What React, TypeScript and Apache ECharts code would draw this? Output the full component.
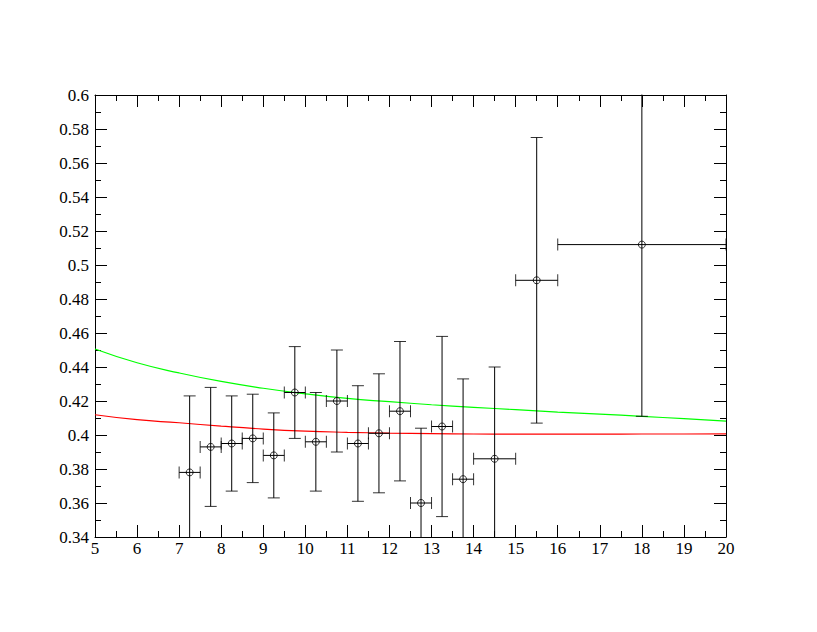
import React, { useEffect, useRef } from "react";
import * as echarts from "echarts";

const pointX = [7.25, 7.75, 8.25, 8.75, 9.25, 9.75, 10.25, 10.75, 11.25, 11.75, 12.25, 12.75, 13.25, 13.75, 14.5, 15.5, 18];
const pointXErr = [0.25, 0.25, 0.25, 0.25, 0.25, 0.25, 0.25, 0.25, 0.25, 0.25, 0.25, 0.25, 0.25, 0.25, 0.5, 0.5, 2];
const pointY = [0.378, 0.393, 0.395, 0.398, 0.388, 0.425, 0.396, 0.42, 0.395, 0.401, 0.414, 0.36, 0.405, 0.374, 0.386, 0.491, 0.512];
const pointYErr = [0.045, 0.035, 0.028, 0.026, 0.025, 0.027, 0.029, 0.03, 0.034, 0.035, 0.041, 0.044, 0.053, 0.059, 0.054, 0.084, 0.101];

const curveX = [5, 6, 7, 8, 9, 10, 11, 12, 13, 14, 15, 16, 17, 18, 19, 20];
const greenY = [0.4506, 0.4425, 0.4365, 0.4315, 0.4275, 0.4242, 0.4215, 0.4196, 0.4178, 0.4163, 0.4149, 0.4135, 0.4123, 0.411, 0.4096, 0.4082];
const redY = [0.4119, 0.409, 0.4072, 0.4052, 0.4035, 0.4023, 0.4016, 0.4011, 0.4008, 0.4006, 0.4005, 0.4005, 0.4005, 0.4006, 0.4006, 0.4007];

const FONT = "Liberation Serif";

export default function App() {
  const ref = useRef<HTMLDivElement>(null);
  useEffect(() => {
    if (!ref.current) return;
    const chart = echarts.init(ref.current, undefined, { renderer: "svg" });
    const tickLine = { color: "#000", width: 1 };
    const mkAxisX = (pos: string, showLabel: boolean) => ({
      type: "value",
      position: pos,
      min: 5,
      max: 20,
      interval: 1,
      axisLine: { show: true, onZero: false, lineStyle: tickLine },
      axisTick: { show: true, inside: true, length: 12, lineStyle: tickLine },
      minorTick: { show: true, splitNumber: 2, length: 6, lineStyle: tickLine },
      splitLine: { show: false },
      minorSplitLine: { show: false },
      axisLabel: {
        show: showLabel,
        margin: 3,
        color: "#000",
        fontFamily: FONT,
        fontSize: 17,
      },
    });
    const mkAxisY = (pos: string, showLabel: boolean) => ({
      type: "value",
      position: pos,
      min: 0.34,
      max: 0.6,
      interval: 0.02,
      axisLine: { show: true, onZero: false, lineStyle: tickLine },
      axisTick: { show: true, inside: true, length: 12, lineStyle: tickLine },
      minorTick: { show: true, splitNumber: 2, length: 6, lineStyle: tickLine },
      splitLine: { show: false },
      minorSplitLine: { show: false },
      axisLabel: {
        show: showLabel,
        margin: 6,
        color: "#000",
        fontFamily: FONT,
        fontSize: 17,
        formatter: (v: number) => String(+v.toFixed(2)),
      },
    });

    const barStyle = { color: "#000", width: 1 };
    const barSeries: any[] = [];
    pointX.forEach((x, i) => {
      const y = pointY[i];
      const ye = pointYErr[i];
      const xe = pointXErr[i];
      barSeries.push({
        type: "line",
        data: [[x, y - ye], [x, y + ye]],
        showSymbol: false,
        silent: true,
        clip: true,
        lineStyle: barStyle,
        z: 4,
      });
      barSeries.push({
        type: "line",
        data: [[x - xe, y], [x + xe, y]],
        showSymbol: false,
        silent: true,
        clip: true,
        lineStyle: barStyle,
        z: 4,
      });
    });

    const yCaps: number[][] = [];
    const xCaps: number[][] = [];
    pointX.forEach((x, i) => {
      yCaps.push([x, pointY[i] - pointYErr[i]], [x, pointY[i] + pointYErr[i]]);
      xCaps.push([x - pointXErr[i], pointY[i]], [x + pointXErr[i], pointY[i]]);
    });

    chart.setOption({
      animation: false,
      backgroundColor: "#fff",
      grid: { left: 95, top: 95, width: 631, height: 442, containLabel: false },
      xAxis: [mkAxisX("bottom", true), mkAxisX("top", false)],
      yAxis: [mkAxisY("left", true), mkAxisY("right", false)],
      series: [
        {
          type: "line",
          data: curveX.map((x, i) => [x, greenY[i]]),
          smooth: true,
          showSymbol: false,
          lineStyle: { color: "#00ff00", width: 1.2 },
          z: 3,
        },
        {
          type: "line",
          data: curveX.map((x, i) => [x, redY[i]]),
          smooth: true,
          showSymbol: false,
          lineStyle: { color: "#ff0000", width: 1.2 },
          z: 3,
        },
        ...barSeries,
        {
          type: "scatter",
          data: yCaps,
          symbol: "rect",
          symbolSize: [12, 1],
          clip: true,
          silent: true,
          itemStyle: { color: "#000" },
          z: 4,
        },
        {
          type: "scatter",
          data: xCaps,
          symbol: "rect",
          symbolSize: [1, 12],
          clip: true,
          silent: true,
          itemStyle: { color: "#000" },
          z: 4,
        },
        {
          type: "scatter",
          data: pointX.map((x, i) => [x, pointY[i]]),
          symbol: "circle",
          symbolSize: 7,
          itemStyle: { color: "rgba(255,255,255,0)", borderColor: "#000", borderWidth: 1 },
          z: 5,
        },
      ],
    });
    return () => chart.dispose();
  }, []);
  return (
    <div
      ref={ref}
      style={{ position: "fixed", left: 0, top: 0, width: 817, height: 632, background: "#fff" }}
    />
  );
}
